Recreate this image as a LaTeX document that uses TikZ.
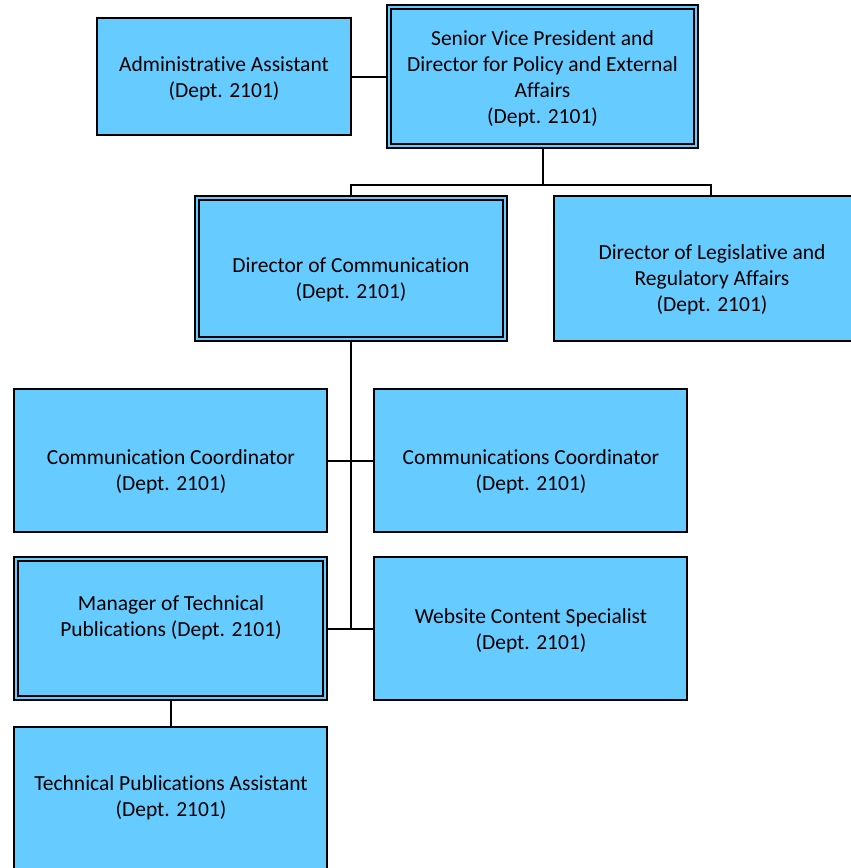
\documentclass[tikz,border=0pt]{standalone}
\usepackage{fontspec}
\setmainfont{Carlito}[Ligatures=NoCommon]
\definecolor{boxblue}{HTML}{66CCFF}
\begin{document}
\begin{tikzpicture}[x=1pt,y=-1pt,
  box/.style={draw=black,fill=boxblue,line width=2pt,inner sep=0pt},
  lbl/.style={align=center,font=\fontsize{21.5}{26}\selectfont,inner sep=0pt},
  inner/.style={draw=black,line width=2pt},
  conn/.style={draw=black,line width=2pt}]
\useasboundingbox (0,0) rectangle (851,868);
\clip (0,0) rectangle (851,868);
% connectors
\coordinate (svpdrop) at (542.5,185);
\coordinate (leftdrop) at (351,185);
\coordinate (rightdrop) at (711,185);
\coordinate (j1) at (351,461);
\coordinate (j2) at (351,628.5);
% boxes
\node[box,minimum width=254,minimum height=117] (adm) at (224,76.5) {};
\node[box,minimum width=311,minimum height=143] (svp) at (542.5,76.5) {};
\node[box,minimum width=312,minimum height=145] (dc) at (351,268.5) {};
\node[box,minimum width=314,minimum height=145] (dl) at (711,268.5) {};
\node[box,minimum width=313,minimum height=143] (cc) at (170.5,460.5) {};
\node[box,minimum width=313,minimum height=143] (ccs) at (530.5,460.5) {};
\node[box,minimum width=313,minimum height=143] (mtp) at (170.5,628.5) {};
\node[box,minimum width=313,minimum height=143] (wcs) at (530.5,628.5) {};
\node[box,minimum width=313,minimum height=143] (tpa) at (170.5,798.5) {};
% double borders
\foreach \n in {svp,dc,mtp}{
  \draw[inner] ([shift={(5,5)}]\n.north west) rectangle ([shift={(-5,-5)}]\n.south east);
}
% connector lines
\draw[conn] (adm.east) -- (svp.west);
\draw[conn] (svp.south) -- (svpdrop);
\draw[conn] (dc.north) -- (leftdrop) -- (rightdrop) -- (dl.north);
\draw[conn] (dc.south) -- (j2);
\draw[conn] (cc.east |- j1) -- (ccs.west |- j1);
\draw[conn] (mtp.east |- j2) -- (wcs.west |- j2);
\draw[conn] (mtp.south) -- (tpa.north);
% labels
\node[lbl] (admt) at (224,79) {Administrative Assistant\\(Dept. 2101)};
\node[lbl] (svpt) at (542.5,79) {Senior Vice President and\\Director for Policy and External\\Affairs\\(Dept. 2101)};
\node[lbl] (dct) at (351,280) {Director of Communication\\(Dept. 2101)};
\node[lbl] (dlt) at (712,280) {Director of Legislative and\\Regulatory Affairs\\(Dept. 2101)};
\node[lbl] (cct) at (171,472) {Communication Coordinator\\(Dept. 2101)};
\node[lbl] (ccst) at (531,472) {Communications Coordinator\\(Dept. 2101)};
\node[lbl] (mtpt) at (171,618) {Manager of Technical\\Publications (Dept. 2101)};
\node[lbl] (wcst) at (531,630.5) {Website Content Specialist\\(Dept. 2101)};
\node[lbl] (tpat) at (171,798) {Technical Publications Assistant\\(Dept. 2101)};
\end{tikzpicture}
\end{document}
